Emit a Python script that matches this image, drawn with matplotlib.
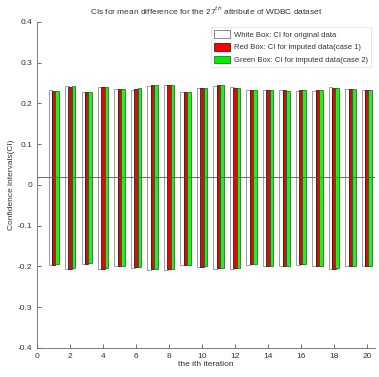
import numpy as np
import matplotlib
matplotlib.use('Agg')
import matplotlib.pyplot as plt
from matplotlib.patches import Patch

plt.rcParams['font.family'] = ['Liberation Sans', 'DejaVu Sans']

# Data: CI bounds per iteration
iterations = list(range(1, 21))

white_upper = [0.232, 0.242, 0.227, 0.241, 0.236, 0.234, 0.243, 0.245, 0.227, 0.237,
               0.243, 0.239, 0.234, 0.232, 0.233, 0.231, 0.231, 0.239, 0.236, 0.232]
white_lower = [-0.197, -0.207, -0.194, -0.207, -0.199, -0.203, -0.208, -0.208, -0.197, -0.202,
               -0.206, -0.206, -0.196, -0.200, -0.200, -0.196, -0.200, -0.207, -0.200, -0.200]

red_upper = [0.231, 0.241, 0.228, 0.241, 0.235, 0.235, 0.244, 0.244, 0.228, 0.238,
             0.244, 0.238, 0.233, 0.233, 0.232, 0.232, 0.232, 0.238, 0.235, 0.233]
red_lower = [-0.196, -0.206, -0.193, -0.206, -0.199, -0.202, -0.207, -0.207, -0.197, -0.201,
             -0.205, -0.205, -0.195, -0.199, -0.199, -0.195, -0.199, -0.206, -0.199, -0.199]

green_upper = [0.230, 0.242, 0.227, 0.240, 0.236, 0.238, 0.245, 0.244, 0.228, 0.237,
               0.245, 0.237, 0.232, 0.233, 0.231, 0.232, 0.233, 0.238, 0.236, 0.234]
green_lower = [-0.195, -0.205, -0.192, -0.205, -0.198, -0.201, -0.206, -0.206, -0.196, -0.200,
               -0.204, -0.204, -0.194, -0.198, -0.198, -0.194, -0.198, -0.205, -0.198, -0.198]

ref_line = 0.02

legend_labels = ['White Box: CI for original data',
                 'Red Box: CI for imputed data(case 1)',
                 'Green Box: CI for imputed data(case 2)']

x = np.array(iterations)
w = 0.22
txt = '#333333'

fig = plt.figure(figsize=(3.79, 3.77), dpi=100, facecolor='white')
ax = fig.add_axes([0.098, 0.077, 0.892, 0.865])

series = [
    (white_upper, white_lower, -0.2, 'white', '#777777'),
    (red_upper, red_lower, 0.0, '#d01010', '#300000'),
    (green_upper, green_lower, 0.2, '#22ee22', '#1a5a1a'),
]
for up, lo, off, fc, ec in series:
    up = np.array(up)
    lo = np.array(lo)
    ax.bar(x + off, up - lo, bottom=lo, width=w, color=fc, edgecolor=ec, linewidth=0.5)

ax.axhline(ref_line, color='#4a4ab0', linewidth=0.6)

ax.set_xlim(0, 20.5)
ax.set_ylim(-0.4, 0.4)
ax.set_xticks(range(0, 21, 2))
ax.set_yticks(np.arange(-0.4, 0.41, 0.1))
ax.set_yticklabels(['-0.4', '-0.3', '-0.2', '-0.1', '0', '0.1', '0.2', '0.3', '0.4'])
ax.tick_params(direction='in', length=3, width=0.6, labelsize=6, colors='#555555',
               labelcolor=txt)

for s in ['top', 'right']:
    ax.spines[s].set_visible(False)
for s in ['left', 'bottom']:
    ax.spines[s].set_color('#666666')
    ax.spines[s].set_linewidth(0.6)

ax.set_title('CIs for mean difference for the 27$^{th}$ attribute of WDBC dataset',
             fontsize=6, color=txt, pad=5)
ax.set_xlabel('the ith iteration', fontsize=6, color=txt, labelpad=1)
ax.set_ylabel('Confidence intervals(CI)', fontsize=6, color=txt, labelpad=2)

handles = [Patch(facecolor='white', edgecolor='#777777', linewidth=0.6),
           Patch(facecolor='#ff0000', edgecolor='#300000', linewidth=0.5),
           Patch(facecolor='#00ee00', edgecolor='#1a5a1a', linewidth=0.5)]
leg = ax.legend(handles, legend_labels, loc='upper right', bbox_to_anchor=(1.0, 0.995),
                fontsize=5.5, frameon=True, fancybox=False, borderpad=0.4,
                handlelength=2.0, handleheight=1.1, labelspacing=0.6, handletextpad=0.6)
leg.get_frame().set_edgecolor('#dddddd')
leg.get_frame().set_linewidth(0.6)
for t in leg.get_texts():
    t.set_color(txt)

fig.savefig('out.png', dpi=100)
